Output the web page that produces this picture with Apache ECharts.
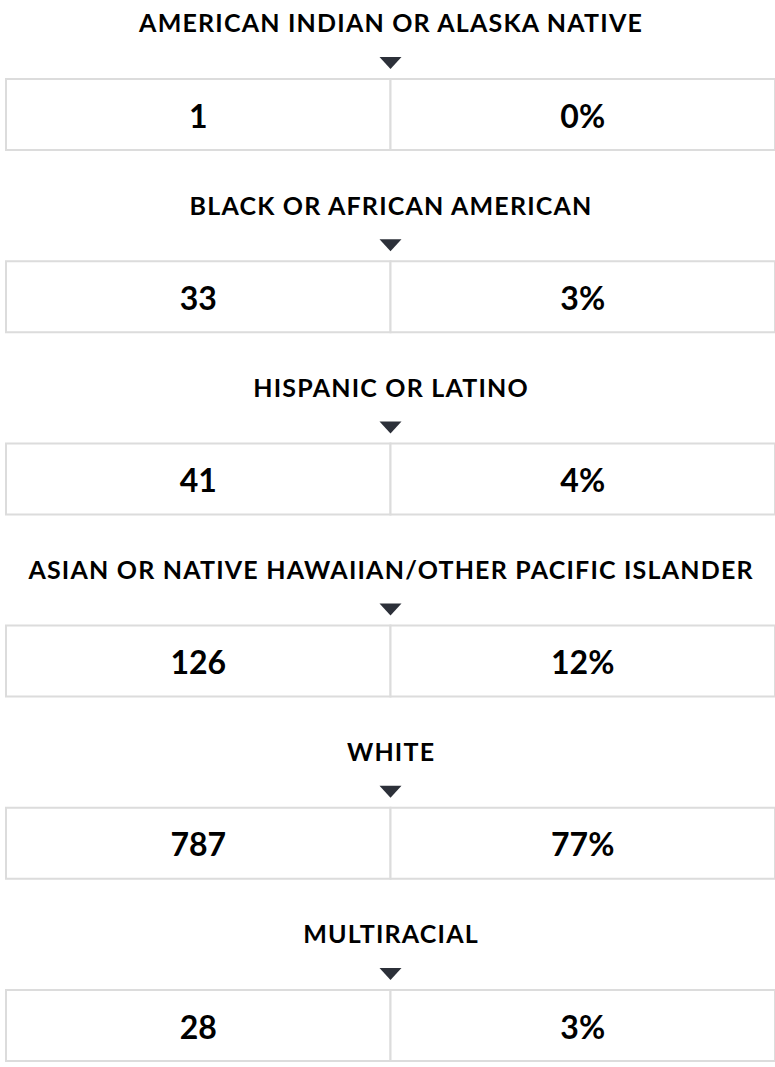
<!DOCTYPE html>
<html>
<head>
<meta charset="utf-8">
<style>
html,body{margin:0;padding:0;background:#fff;}
#chart{width:775px;height:1067px;}
#chart text.cat-title{letter-spacing:1.2px;}
</style>
<script src="https://cdn.jsdelivr.net/npm/echarts@6/dist/echarts.min.js"></script>
</head>
<body>
<div id="chart"></div>
<script>
const categories = [
  'AMERICAN INDIAN OR ALASKA NATIVE',
  'BLACK OR AFRICAN AMERICAN',
  'HISPANIC OR LATINO',
  'ASIAN OR NATIVE HAWAIIAN/OTHER PACIFIC ISLANDER',
  'WHITE',
  'MULTIRACIAL'
];
const counts = [1, 33, 41, 126, 787, 28];
const percents = [0, 3, 4, 12, 77, 3];

const chart = echarts.init(document.getElementById('chart'), null, {renderer: 'svg'});
const data = categories.map((c, i) => [i, counts[i], percents[i]]);
const BAND = 182.2;

function renderItem(params, api) {
  const row = api.value(0);
  const tl = api.coord([0, row]);
  const br = api.coord([2, row + 1]);
  const mid = api.coord([1, row]);
  const bandH = br[1] - tl[1];
  const boxTop = tl[1] + bandH * (79 / BAND);
  const boxH = bandH * (71 / BAND);
  const titleY = tl[1] + bandH * (22.3 / BAND);
  const cx = mid[0];
  const border = {stroke: '#dcdcdc', lineWidth: 2, fill: '#fff'};
  const font = 'Lato, "Open Sans", sans-serif';
  return {
    type: 'group',
    children: [
      {type: 'rect', shape: {x: tl[0], y: boxTop, width: cx - tl[0], height: boxH}, style: border},
      {type: 'rect', shape: {x: cx, y: boxTop, width: br[0] - cx, height: boxH}, style: border},
      {type: 'polygon', shape: {points: [[cx - 11, boxTop - 22], [cx + 11, boxTop - 22], [cx, boxTop - 10]]}, style: {fill: '#2c3039'}},
      {type: 'text', style: {text: categories[params.dataIndex], x: cx + 0.6, y: titleY, align: 'center', verticalAlign: 'middle', fill: '#000', font: 'bold 25px ' + font}},
      {type: 'text', style: {text: String(api.value(1)), x: (tl[0] + cx) / 2, y: boxTop + boxH / 2 + 0.5, align: 'center', verticalAlign: 'middle', fill: '#000', font: 'bold 32px ' + font}},
      {type: 'text', style: {text: api.value(2) + '%', x: (cx + br[0]) / 2, y: boxTop + boxH / 2 + 0.5, align: 'center', verticalAlign: 'middle', fill: '#000', font: 'bold 32px ' + font}}
    ]
  };
}

chart.setOption({
  animation: false,
  grid: {left: 6, right: -1.5, top: 0, bottom: 0},
  xAxis: {type: 'value', min: 0, max: 2, show: false},
  yAxis: {type: 'value', min: 0, max: 1067 / BAND, inverse: true, show: false},
  series: [{
    type: 'custom',
    renderItem: renderItem,
    data: data,
    clip: false
  }]
});

function spaceTitles() {
  document.querySelectorAll('#chart text').forEach(t => {
    if (categories.indexOf(t.textContent) >= 0) {
      t.classList.add('cat-title');
      t.style.letterSpacing = '1.2px';
    }
  });
}
chart.on('rendered', spaceTitles);
chart.on('finished', spaceTitles);
setTimeout(spaceTitles, 50);
</script>
</body>
</html>
